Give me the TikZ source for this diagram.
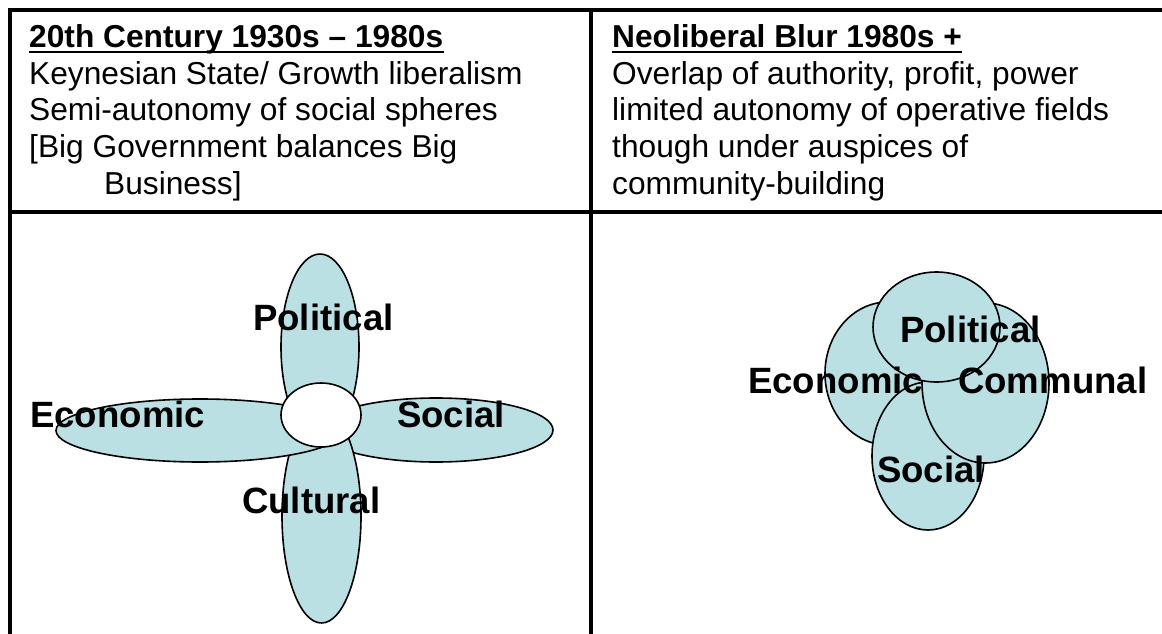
\documentclass[tikz,border=0pt]{standalone}
\usepackage{fontspec}
\setmainfont{Liberation Sans}
\usetikzlibrary{shapes.geometric}
\definecolor{petalc}{RGB}{187,224,228}
\begin{document}
\begin{tikzpicture}[x=1pt,y=-1pt,
  txt/.style={inner sep=0pt, anchor=base west, font=\fontsize{31.7}{36.5}\selectfont},
  hd/.style={inner sep=0pt, anchor=base west, font=\fontsize{31.7}{36.5}\selectfont\bfseries},
  lbl/.style={inner sep=0pt, anchor=base west, font=\fontsize{36.6}{40}\selectfont\bfseries},
  petal/.style={ellipse, draw=black, line width=1.6pt, fill=petalc, inner sep=0pt, outer sep=0pt},
  hole/.style={ellipse, draw=black, line width=1.6pt, fill=white, inner sep=0pt, outer sep=0pt},
  uline/.style={line width=2.6pt},
  rule/.style={line width=3.3pt},
  outer/.style={line width=4.6pt}]
\useasboundingbox (0,0) rectangle (1162,634);

% table rules
\draw[outer] (7.7,10) -- (1162,10);
\draw[outer] (10,7.7) -- (10,634);
\draw[rule] (591,10) -- (591,634);
\draw[rule] (10,212) -- (1162,212);

% left header
\node[hd] (h1) at (29,48) {20th Century 1930s -- 1980s};
\draw[uline] ([yshift=-4pt]h1.base west) -- ([yshift=-4pt]h1.base east);
\node[txt] (l1) at (29,84.5) {Keynesian State/ Growth liberalism};
\node[txt] (l2) at (29,121) {Semi-autonomy of social spheres};
\node[txt] (l3) at (29,157.5) {[Big Government balances Big};
\node[txt] (l4) at (104,194) {Business]};

% right header
\node[hd] (h2) at (612,48) {Neoliberal Blur 1980s +};
\draw[uline] ([yshift=-4pt]h2.base west) -- ([yshift=-4pt]h2.base east);
\node[txt] (r1) at (612,84.5) {Overlap of authority, profit, power};
\node[txt] (r2) at (612,121) {limited autonomy of operative fields};
\node[txt] (r3) at (612,157.5) {though under auspices of};
\node[txt] (r4) at (612,194) {community-building};

% left diagram
\node[petal, minimum width=234pt, minimum height=64pt] (lsoc) at (436,430) {};
\node[petal, minimum width=78pt, minimum height=186pt] (lpol) at (320,347) {};
\node[petal, minimum width=79pt, minimum height=214pt] (lcul) at (321.5,516) {};
\node[petal, minimum width=288pt, minimum height=63pt] (leco) at (200,430.5) {};
\node[hole, minimum width=80pt, minimum height=64pt] (lctr) at (321,415) {};

\node[lbl] (tpol) at (253,330) {Political};
\node[lbl] (teco) at (30,427) {Economic};
\node[lbl] (tsoc) at (397,427) {Social};
\node[lbl] (tcul) at (242,513) {Cultural};

% right diagram
\node[petal, minimum width=126pt, minimum height=143pt] (reco) at (888,373.5) {};
\node[petal, minimum width=112pt, minimum height=148pt] (rsoc) at (928,456) {};
\node[petal, minimum width=127pt, minimum height=160pt] (rcom) at (985.5,383) {};
\node[petal, minimum width=127pt, minimum height=110pt] (rpol) at (936.5,327) {};

\node[lbl] (upol) at (900,342) {Political};
\node[lbl] (ueco) at (748,393) {Economic};
\node[lbl] (ucom) at (958,393) {Communal};
\node[lbl] (usoc) at (877,482) {Social};
\end{tikzpicture}
\end{document}
